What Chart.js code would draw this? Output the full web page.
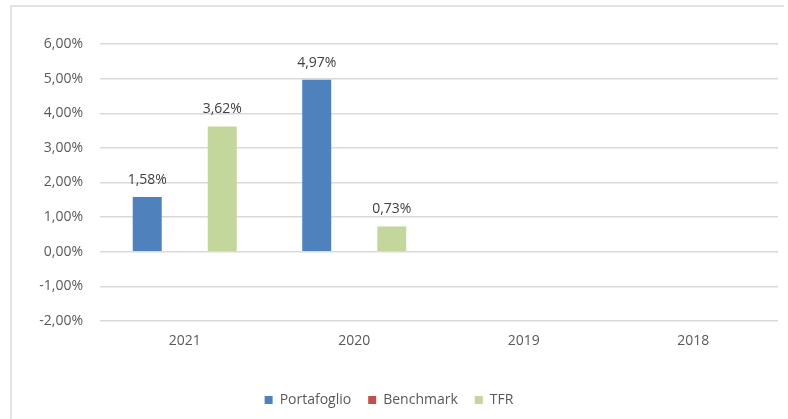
<!DOCTYPE html>
<html>
<head>
<meta charset="utf-8">
<script src="https://cdn.jsdelivr.net/npm/chart.js@4"></script>
<style>
  html, body { margin: 0; padding: 0; background: #ffffff; }
  #wrap { width: 788px; height: 419px; position: relative; }
</style>
</head>
<body>
<div id="wrap"><canvas id="c" width="788" height="419"></canvas></div>
<script>
const categories = ['2021', '2020', '2019', '2018'];
const portafoglio = [1.58, 4.97, null, null];
const benchmark = [null, null, null, null];
const tfr = [3.62, 0.73, null, null];
const yTicks = { min: -2, max: 6, step: 1 };

const fmt = v => v.toFixed(2).replace('.', ',') + '%';
const FONT = "'Open Sans', sans-serif";

const frame = {
  id: 'frame',
  beforeDraw(chart) {
    const ctx = chart.ctx;
    ctx.save();
    ctx.fillStyle = '#ffffff';
    ctx.fillRect(0, 0, chart.width, chart.height);
    ctx.strokeStyle = '#d9d9d9';
    ctx.lineWidth = 1.5;
    ctx.beginPath();
    ctx.moveTo(11, chart.height);
    ctx.lineTo(11, 6);
    ctx.lineTo(784, 6);
    ctx.stroke();
    ctx.restore();
  }
};

const valueLabels = {
  id: 'valueLabels',
  afterDatasetsDraw(chart) {
    const ctx = chart.ctx;
    ctx.save();
    ctx.font = "14px " + FONT;
    ctx.fillStyle = '#404040';
    ctx.textAlign = 'center';
    ctx.textBaseline = 'middle';
    chart.data.datasets.forEach((ds, i) => {
      const meta = chart.getDatasetMeta(i);
      meta.data.forEach((el, j) => {
        const v = ds.data[j];
        if (v === null || v === undefined) return;
        ctx.fillText(fmt(v), el.x, el.y - 17);
      });
    });
    ctx.restore();
  }
};

new Chart(document.getElementById('c'), {
  type: 'bar',
  data: {
    labels: categories,
    datasets: [
      { label: 'Portafoglio', data: portafoglio, backgroundColor: '#4F81BD' },
      { label: 'Benchmark', data: benchmark, backgroundColor: '#C0504D' },
      { label: 'TFR', data: tfr, backgroundColor: '#C3D69B' }
    ]
  },
  options: {
    responsive: false,
    animation: false,
    devicePixelRatio: 1,
    categoryPercentage: 0.664,
    barPercentage: 0.773,
    layout: { padding: { left: 0, right: 10, top: 44, bottom: 2 } },
    plugins: {
      legend: {
        position: 'bottom',
        labels: {
          boxWidth: 8, boxHeight: 8, padding: 17,
          color: '#595959',
          font: { family: FONT, size: 14 }
        }
      },
      tooltip: { enabled: false },
      title: { display: false }
    },
    scales: {
      x: {
        grid: { display: false },
        border: { display: false },
        ticks: { color: '#595959', font: { family: FONT, size: 14 }, padding: 4 },
        afterFit(scale) { scale.height = 55; }
      },
      y: {
        min: yTicks.min, max: yTicks.max,
        border: { display: false },
        grid: { color: '#d9d9d9', lineWidth: 1.5, drawTicks: false },
        ticks: {
          stepSize: yTicks.step,
          color: '#595959',
          font: { family: FONT, size: 14 },
          padding: 17,
          callback: v => fmt(v)
        },
        afterFit(scale) { scale.width = 100; }
      }
    }
  },
  plugins: [frame, valueLabels]
});
</script>
</body>
</html>
